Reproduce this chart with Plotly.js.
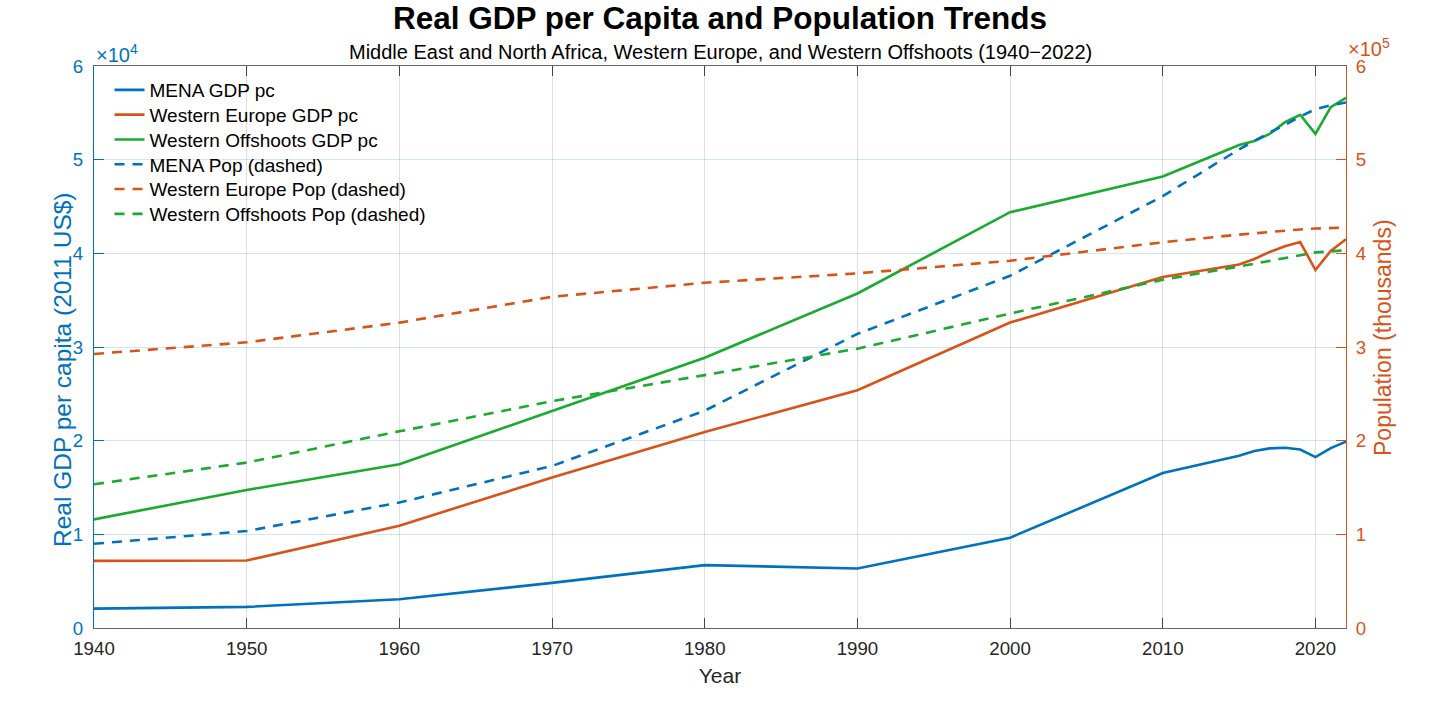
<!DOCTYPE html>
<html>
<head>
<meta charset="utf-8">
<script src="https://cdn.plot.ly/plotly-3.0.1.min.js"></script>
<style>
    html, body { margin: 0; padding: 0; background: #fff; }
    #chart { width: 1456px; height: 702px; }
</style>
</head>
<body>
<div id="chart"></div>
<script>
// Years sampled in the source data
const years = [1940, 1950, 1960, 1970, 1980, 1990, 2000, 2010, 2015, 2016, 2017, 2018, 2019, 2020, 2021, 2022];

// Real GDP per capita (2011 US$)
const menaGdp = [2070, 2250, 3070, 4820, 6710, 6360, 9640, 16540, 18390, 18900, 19180, 19250, 19050, 18250, 19200, 19900];
const weGdp = [7170, 7210, 10920, 16070, 20930, 25390, 32610, 37470, 38800, 39400, 40150, 40750, 41200, 38220, 40260, 41510];
const woGdp = [11600, 14740, 17490, 23210, 28860, 35710, 44390, 48200, 51570, 52000, 52750, 54000, 54790, 52750, 55610, 56610];

// Population (thousands)
const menaPop = [89900, 103500, 134000, 173000, 232000, 314000, 376000, 461000, 511000, 520000, 529000, 537000, 546000, 554000, 558000, 561000];
const wePop = [292600, 305000, 326000, 353600, 368600, 378600, 392100, 411800, 420000, 421500, 423000, 424000, 425500, 426500, 427000, 427500];
const woPop = [153400, 176600, 210000, 242100, 270000, 298200, 335700, 371800, 386000, 389000, 392000, 395000, 398000, 401000, 402000, 403500];

// Axis ticks
const xTicks = [1940, 1950, 1960, 1970, 1980, 1990, 2000, 2010, 2020];
const gdpTicks = [0, 10000, 20000, 30000, 40000, 50000, 60000];
const popTicks = [0, 100000, 200000, 300000, 400000, 500000, 600000];
const tickText = ['0', '1', '2', '3', '4', '5', '6'];

const BLUE = '#0072BD';
const ORANGE = '#D95319';
const GREEN = '#1AAA2E';
const FONT = 'Liberation Sans, Arial, Helvetica, sans-serif';

// plot area geometry (px) used to place the one-item legends like MATLAB's
const PLOT_TOP = 66;
const PLOT_H = 562;
const LEGEND_ROW0 = 90;
const LEGEND_STEP = 24.8;

function series(y, name, color, dash, axis, idx) {
    return {
        type: 'scatter',
        mode: 'lines',
        x: years,
        y: y,
        name: name,
        yaxis: axis,
        legend: idx === 0 ? 'legend' : 'legend' + (idx + 1),
        line: { color: color, width: 2.6, dash: dash }
    };
}

const DASH = '10px,8px';
const traces = [
    series(menaGdp, 'MENA GDP pc', BLUE, 'solid', 'y', 0),
    series(weGdp, 'Western Europe GDP pc', ORANGE, 'solid', 'y', 1),
    series(woGdp, 'Western Offshoots GDP pc', GREEN, 'solid', 'y', 2),
    series(menaPop, 'MENA Pop (dashed)', BLUE, DASH, 'y2', 3),
    series(wePop, 'Western Europe Pop (dashed)', ORANGE, DASH, 'y2', 4),
    series(woPop, 'Western Offshoots Pop (dashed)', GREEN, DASH, 'y2', 5)
];

function legendAt(i) {
    const py = LEGEND_ROW0 + i * LEGEND_STEP;
    return {
        x: 0.0124, xanchor: 'left',
        y: 1 - (py - PLOT_TOP) / PLOT_H, yanchor: 'middle',
        bgcolor: 'rgba(255,255,255,0)',
        borderwidth: 0,
        font: { size: 19, color: '#000' },
        itemwidth: 30
    };
}

const layout = {
    width: 1456,
    height: 702,
    paper_bgcolor: '#fff',
    plot_bgcolor: '#fff',
    font: { family: FONT, size: 18.7, color: '#262626' },
    margin: { l: 94, r: 110, t: 66, b: 74 },
    title: {
        text: '<b>Real GDP per Capita and Population Trends</b>',
        font: { family: FONT, size: 31.5, color: '#000' },
        x: 0.4945, xanchor: 'center',
        y: 0.975, yanchor: 'middle'
    },
    xaxis: {
        range: [1940, 2022],
        tickvals: xTicks,
        ticks: 'inside',
        ticklen: 10,
        tickcolor: '#444',
        showline: true,
        linecolor: '#666',
        linewidth: 1,
        mirror: 'ticks',
        showgrid: true,
        gridcolor: 'rgba(38,38,38,0.15)',
        zeroline: false,
        ticklabelstandoff: 4,
        tickfont: { size: 18.7, color: '#262626' },
        title: { text: 'Year', font: { size: 21, color: '#262626' }, standoff: 9 }
    },
    yaxis: {
        range: [0, 60000],
        tickvals: gdpTicks,
        ticktext: tickText,
        ticks: 'inside',
        ticklen: 10,
        tickcolor: BLUE,
        showline: true,
        linecolor: BLUE,
        linewidth: 1,
        showgrid: true,
        gridcolor: 'rgba(0,114,189,0.18)',
        zeroline: false,
        ticklabelstandoff: 6,
        tickfont: { size: 18.7, color: BLUE }
    },
    yaxis2: {
        overlaying: 'y',
        side: 'right',
        range: [0, 600000],
        tickvals: popTicks,
        ticktext: tickText,
        ticks: 'inside',
        ticklen: 10,
        tickcolor: ORANGE,
        showline: true,
        linecolor: ORANGE,
        linewidth: 1,
        showgrid: false,
        zeroline: false,
        ticklabelstandoff: 5,
        tickfont: { size: 18.7, color: ORANGE }
    },
    showlegend: true,
    legend: legendAt(0),
    legend2: legendAt(1),
    legend3: legendAt(2),
    legend4: legendAt(3),
    legend5: legendAt(4),
    legend6: legendAt(5),
    annotations: [
        {
            text: 'Middle East and North Africa, Western Europe, and Western Offshoots (1940\u22122022)',
            xref: 'paper', yref: 'paper', x: 0.5, y: 1, yshift: 14,
            xanchor: 'center', yanchor: 'middle',
            showarrow: false,
            font: { size: 20, color: '#000' }
        },
        {
            text: '\u00d710<sup>4</sup>',
            xref: 'paper', yref: 'paper', x: 0, y: 1, yshift: -2,
            xanchor: 'left', yanchor: 'bottom',
            showarrow: false,
            font: { size: 20, color: BLUE }
        },
        {
            text: '\u00d710<sup>5</sup>',
            xref: 'paper', yref: 'paper', x: 1, y: 1, yshift: 4,
            xanchor: 'left', yanchor: 'bottom',
            showarrow: false,
            font: { size: 20, color: ORANGE }
        },
        {
            // left axis title, placed where MATLAB put it
            text: 'Real GDP per capita (2011 US$)',
            xref: 'paper', yref: 'paper', x: 0, y: 1 - (370 - PLOT_TOP) / PLOT_H,
            xshift: -32, xanchor: 'center', yanchor: 'middle',
            textangle: -90,
            showarrow: false,
            font: { size: 24.5, color: BLUE }
        },
        {
            text: 'Population (thousands)',
            xref: 'paper', yref: 'paper', x: 1, y: 1 - (338 - PLOT_TOP) / PLOT_H,
            xshift: 37, xanchor: 'center', yanchor: 'middle',
            textangle: -90,
            showarrow: false,
            font: { size: 23, color: ORANGE }
        }
    ]
};

Plotly.newPlot('chart', traces, layout, { displayModeBar: false, responsive: false });
</script>
</body>
</html>
